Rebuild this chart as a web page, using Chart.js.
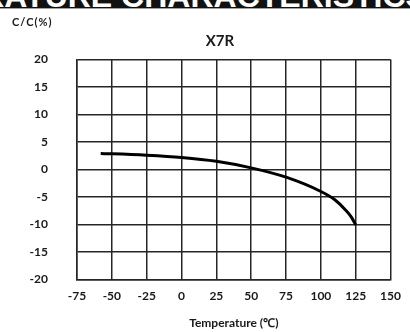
<!DOCTYPE html>
<html>
<head>
<meta charset="utf-8">
<script src="https://cdn.jsdelivr.net/npm/chart.js@4"></script>
<style>
  html, body { margin: 0; padding: 0; background: #fff; }
  #wrap { position: relative; width: 410px; height: 332px; overflow: hidden; }
  #hdr { position: absolute; left: 0; top: 0; width: 410px; height: 8px; background: #111; overflow: hidden; }
  #hdr span { position: absolute; left: -129px; top: -20px; font: bold 32px "Liberation Sans", Arial, sans-serif; line-height: 32px; color: #fff; white-space: nowrap; }
  #hdrline { position: absolute; left: 0; top: 8px; width: 410px; height: 1px; background: #a0a0a0; }
  #ylab { position: absolute; left: 12px; top: 16px; font: bold 11px Lato, sans-serif; letter-spacing: 1px; color: #1a1a1a; line-height: 12px; }
  #ttl { position: absolute; left: 170px; top: 32px; width: 100px; text-align: center; font: bold 15px Lato, sans-serif; line-height: 16px; color: #1a1a1a; }
  canvas { position: absolute; left: 0; top: 0; }
</style>
</head>
<body>
<div id="wrap">
  <canvas id="c" width="410" height="332"></canvas>
  <div id="hdr"><span>TEMPERATURE CHARACTERISTICS</span></div>
  <div id="hdrline"></div>
  <div id="ylab">C/C(%)</div>
  <div id="ttl">X7R</div>
</div>
<script>
// Data
const temperatures = [-58, -50, -25, 0, 25, 50, 75, 100, 110, 117.5, 122, 125];
const capChange    = [2.9, 2.85, 2.6, 2.2, 1.5, 0.3, -1.4, -4.0, -5.5, -7.3, -8.7, -10.1];
const xTicks = [-75, -50, -25, 0, 25, 50, 75, 100, 125, 150];
const yTicks = [-20, -15, -10, -5, 0, 5, 10, 15, 20];
const seriesName = 'X7R';
const xTitle = 'Temperature (℃)';

const points = temperatures.map((t, i) => ({ x: t, y: capChange[i] }));
const gridColor = '#262626';
const textColor = '#1a1a1a';
const tickFont = { family: 'Lato, sans-serif', size: 12, weight: 'bold' };

new Chart(document.getElementById('c'), {
  type: 'scatter',
  data: {
    datasets: [{
      label: seriesName,
      data: points,
      showLine: true,
      borderColor: '#000',
      borderWidth: 3,
      pointRadius: 0,
      cubicInterpolationMode: 'monotone',
      fill: false
    }]
  },
  options: {
    responsive: false,
    animation: false,
    layout: { padding: { left: 0, right: 14, top: 59.5, bottom: 0 } },
    plugins: { legend: { display: false }, tooltip: { enabled: false }, title: { display: false } },
    scales: {
      x: {
        type: 'linear',
        min: xTicks[0],
        max: xTicks[xTicks.length - 1],
        afterBuildTicks: s => { s.ticks = xTicks.map(v => ({ value: v })); },
        afterFit: s => { s.height = 52.5; },
        grid: { color: gridColor, lineWidth: 1.5, drawTicks: false },
        border: { color: gridColor, width: 1.5 },
        ticks: { color: textColor, font: tickFont, padding: 9, maxRotation: 0, autoSkip: false },
        title: { display: true, text: xTitle, color: textColor, font: { family: 'Lato, sans-serif', size: 12, weight: 'bold' }, padding: { top: 0, bottom: 2 } }
      },
      y: {
        type: 'linear',
        min: yTicks[0],
        max: yTicks[yTicks.length - 1],
        afterBuildTicks: s => { s.ticks = yTicks.map(v => ({ value: v })); },
        afterFit: s => { s.width = 77; },
        grid: { color: gridColor, lineWidth: 1.5, drawTicks: false },
        border: { color: gridColor, width: 1.5 },
        ticks: { color: textColor, font: tickFont, padding: 29, autoSkip: false }
      }
    }
  }
});
</script>
</body>
</html>
